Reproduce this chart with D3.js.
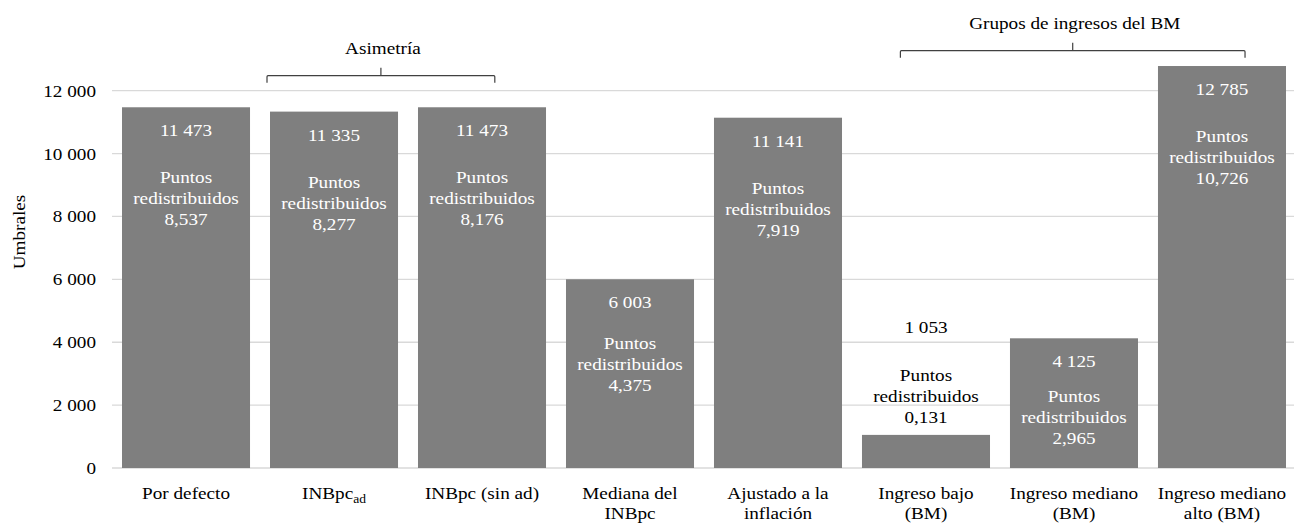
<!DOCTYPE html>
<html><head><meta charset="utf-8">
<script src="https://cdn.jsdelivr.net/npm/d3@7"></script>
<style>
html,body{margin:0;padding:0;background:#fff;}
svg{display:block;}
svg text{font-family:"Liberation Serif","Times New Roman",Times,Tinos,"Noto Serif","DejaVu Serif",serif !important;}
</style></head>
<body><svg id="chart" width="1294" height="525"></svg>
<script>
// ---- data ----
const categories = [
  ["Por defecto"],
  ["INBpc_ad"],
  ["INBpc (sin ad)"],
  ["Mediana del", "INBpc"],
  ["Ajustado a la", "inflación"],
  ["Ingreso bajo", "(BM)"],
  ["Ingreso mediano", "(BM)"],
  ["Ingreso mediano", "alto (BM)"]
];
const thresholds = [11473, 11335, 11473, 6003, 11141, 1053, 4125, 12785];
const thresholdLabels = ["11 473", "11 335", "11 473", "6 003", "11 141", "1 053", "4 125", "12 785"];
const redistributed = ["8,537", "8,277", "8,176", "4,375", "7,919", "0,131", "2,965", "10,726"];
const yTicks = [0, 2000, 4000, 6000, 8000, 10000, 12000];
const yTickLabels = ["0", "2 000", "4 000", "6 000", "8 000", "10 000", "12 000"];
const groups = [
  {label: "Asimetría", from: 1, to: 2},
  {label: "Grupos de ingresos del BM", from: 5, to: 7}
];
const yTitle = "Umbrales";

// ---- layout ----
(function () {
const W = 1294, H = 525;
const pLeft = 112, pRight = 1296, pTop = 90.7, pBottom = 468;
const FS = 17, SX = 1.13;
const svg = d3.select("#chart");

const x = d3.scaleBand().domain(d3.range(categories.length)).range([pLeft, pRight])
  .paddingInner(0.135).paddingOuter(0.0676);
const y = d3.scaleLinear().domain([0, 12000]).range([pBottom, pTop]);
const bw = x.bandwidth();

function stext(g, tx, ty, str, fill, anchor) {
  return g.append("text")
    .attr("transform", `translate(${tx},${ty}) scale(${SX},1)`)
    .attr("text-anchor", anchor || "middle")
    .attr("dy", "0.35em")
    .attr("font-size", FS)
    .attr("fill", fill || "#000")
    .text(str);
}

// gridlines
svg.append("g").selectAll("line").data(yTicks).join("line")
  .attr("x1", pLeft).attr("x2", W)
  .attr("y1", d => y(d)).attr("y2", d => y(d))
  .attr("stroke", "#d9d9d9").attr("stroke-width", 1.3);

// y axis labels
const yAxis = svg.append("g").attr("transform", `translate(${pLeft},0)`)
  .call(d3.axisLeft(y).tickValues(yTicks).tickFormat((d, i) => yTickLabels[i]).tickSize(0).tickPadding(16));
yAxis.select(".domain").remove();
yAxis.attr("font-family", null).attr("font-size", FS);
yAxis.selectAll("text")
  .attr("font-size", FS).attr("fill", "#000")
  .attr("transform", `scale(${SX},1)`)
  .attr("x", -16 / SX);

// y title
svg.append("text")
  .attr("transform", `translate(19,232) rotate(-90) scale(${SX},1)`)
  .attr("text-anchor", "middle").attr("dy", "0.35em")
  .attr("font-size", FS).attr("fill", "#000").text(yTitle);

// bars
svg.append("g").selectAll("rect").data(thresholds).join("rect")
  .attr("x", (d, i) => x(i)).attr("width", bw)
  .attr("y", d => y(d)).attr("height", d => y(0) - y(d))
  .attr("fill", "#7f7f7f");

// bar labels
const lab = svg.append("g");
const LH = 21;
thresholds.forEach((v, i) => {
  const cx = x(i) + bw / 2;
  const h = y(0) - y(v);
  const inside = h > 100;
  if (inside) {
    const y0 = y(v) + 23;
    const gap = Math.min(47, 21 + h * 0.105);
    stext(lab, cx, y0, thresholdLabels[i], "#fff");
    stext(lab, cx, y0 + gap, "Puntos", "#fff");
    stext(lab, cx, y0 + gap + LH, "redistribuidos", "#fff");
    stext(lab, cx, y0 + gap + 2 * LH, redistributed[i], "#fff");
  } else {
    const yb = y(v) - 18;
    stext(lab, cx, yb, redistributed[i], "#000");
    stext(lab, cx, yb - LH, "redistribuidos", "#000");
    stext(lab, cx, yb - 2 * LH, "Puntos", "#000");
    stext(lab, cx, yb - 2 * LH - 48, thresholdLabels[i], "#000");
  }
});

// category labels
const cat = svg.append("g");
categories.forEach((lines, i) => {
  const cx = x(i) + bw / 2;
  lines.forEach((ln, j) => {
    const ty = pBottom + 25 + j * 20;
    if (ln.includes("_")) {
      const [base, sub] = ln.split("_");
      const t = cat.append("text")
        .attr("transform", `translate(${cx},${ty}) scale(${SX},1)`)
        .attr("text-anchor", "middle").attr("dy", "0.35em")
        .attr("font-size", FS).attr("fill", "#000");
      t.append("tspan").text(base);
      t.append("tspan").attr("font-size", 12).attr("dy", "0.3em").text(sub);
    } else {
      stext(cat, cx, ty, ln, "#000");
    }
  });
});

// group brackets
const br = svg.append("g");
const brLevels = [y(12000) - 15, y(12000) - 40];
const brFrac = [[-3 / bw, 0.6], [0.3, 0.68]];
groups.forEach((g, k) => {
  const x1 = x(g.from) + brFrac[k][0] * bw;
  const x2 = x(g.to) + brFrac[k][1] * bw;
  const yy = brLevels[k];
  const cx = (x1 + x2) / 2;
  br.append("path")
    .attr("d", `M${x1},${yy + 7} V${yy + 1} Q${x1},${yy} ${x1 + 1},${yy} H${x2 - 1} Q${x2},${yy} ${x2},${yy + 1} V${yy + 7} M${cx},${yy} V${yy - 8}`)
    .attr("fill", "none").attr("stroke", "#404040").attr("stroke-width", 1.2);
  stext(br, cx + 2, yy - 28, g.label, "#000");
});
})();
</script></body></html>
